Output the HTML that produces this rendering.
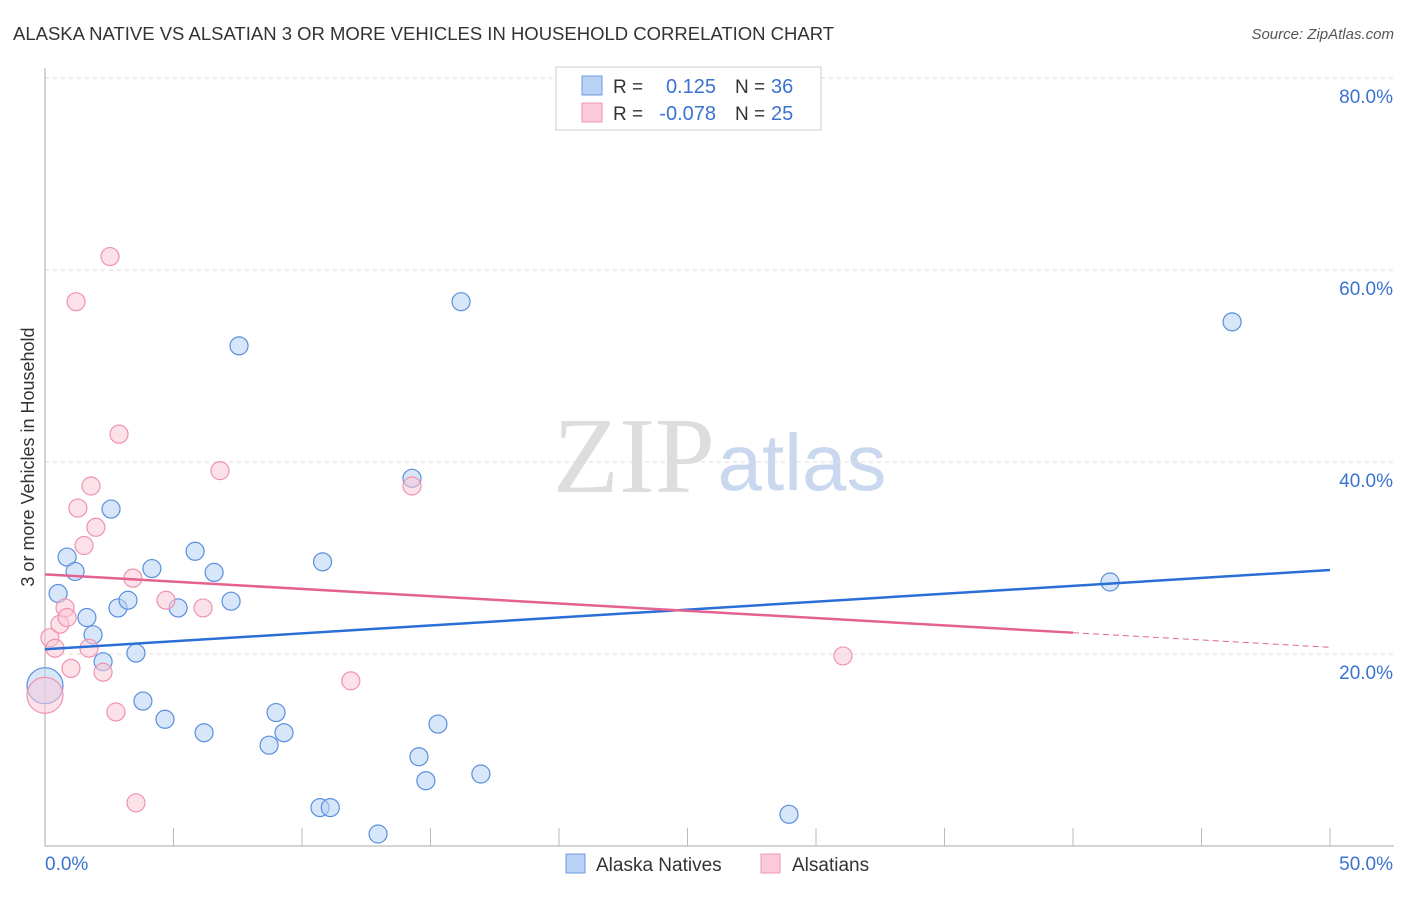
<!DOCTYPE html>
<html><head><meta charset="utf-8"><style>
body{margin:0;background:#fff;font-family:"Liberation Sans",sans-serif}
</style></head><body>
<svg id="c" width="1406" height="892" xmlns="http://www.w3.org/2000/svg">
<text x="13" y="40" font-size="18.5" fill="#333">ALASKA NATIVE VS ALSATIAN 3 OR MORE VEHICLES IN HOUSEHOLD CORRELATION CHART</text>
<text x="1394" y="39" font-size="15" fill="#555" font-style="italic" text-anchor="end">Source: ZipAtlas.com</text>
<text x="634" y="492" font-size="108" fill="#ddd" font-family="Liberation Serif" text-anchor="middle">ZIP</text>
<text x="802" y="490" font-size="80" fill="#c9d8ee" text-anchor="middle">atlas</text>
<text transform="translate(34,457) rotate(-90)" font-size="18" fill="#333" text-anchor="middle">3 or more Vehicles in Household</text>
<g id="grid"></g><g id="pts"></g><g id="lines"></g>
<g>
<rect x="556" y="67" width="265" height="63" fill="#fff" stroke="#ccc"/>
<rect x="582" y="76" width="20" height="19" fill="#b8d1f5" stroke="#6d9be0"/>
<rect x="582" y="103" width="20" height="19" fill="#fbc9d7" stroke="#ee9ab3"/>
<text x="613" y="93" font-size="19" fill="#333">R = </text><text x="716" y="93" font-size="20" fill="#3b73d1" text-anchor="end">0.125</text>
<text x="735" y="93" font-size="19" fill="#333">N = </text><text x="771" y="93" font-size="20" fill="#3b73d1">36</text>
<text x="613" y="120" font-size="19" fill="#333">R = </text><text x="716" y="120" font-size="20" fill="#3b73d1" text-anchor="end">-0.078</text>
<text x="735" y="120" font-size="19" fill="#333">N = </text><text x="771" y="120" font-size="20" fill="#3b73d1">25</text>
</g>
<g>
<rect x="566" y="854" width="19" height="19" fill="#b8d1f5" stroke="#6d9be0"/>
<text x="596" y="871" font-size="19" fill="#333">Alaska Natives</text>
<rect x="761" y="854" width="19" height="19" fill="#fbc9d7" stroke="#ee9ab3"/>
<text x="792" y="871" font-size="19" fill="#333">Alsatians</text>
</g>
</svg>
<script>
const blueX=[0,0.51,0.86,1.17,1.63,1.87,2.26,2.57,2.84,3.23,3.54,3.81,4.16,4.67,5.18,5.84,6.19,6.58,7.24,7.55,8.72,8.99,9.30,10.7,10.8,11.1,12.96,14.28,14.55,14.82,15.29,16.19,16.96,28.95,41.44,46.19];
const blueY=[16.7,26.3,30.1,28.6,23.8,22.0,19.2,35.1,24.8,25.6,20.1,15.1,28.9,13.2,24.8,30.7,11.8,28.5,25.5,52.1,10.5,13.9,11.8,4.0,29.6,4.0,1.25,38.3,9.3,6.8,12.7,56.7,7.5,3.3,27.5,54.6];
const pinkX=[0,0.19,0.39,0.58,0.78,0.86,1.01,1.21,1.28,1.52,1.71,1.79,1.98,2.26,2.53,2.76,2.88,3.42,3.54,4.71,6.15,6.81,11.9,14.28,31.05];
const pinkY=[15.7,21.7,20.6,23.1,24.8,23.8,18.5,56.7,35.2,31.3,20.6,37.5,33.2,18.1,61.4,13.96,42.9,27.9,4.5,25.6,24.8,39.1,17.2,37.5,19.8];
const blueTrend=[20.5,28.75];
const pinkTrend=[28.3,20.7];
const yTicks=[20,40,60,80];
const xTickLabels=["0.0%","50.0%"];
const NS="http://www.w3.org/2000/svg";
const X=v=>45+v/50*1285, Y=v=>846-v*9.6;
function mk(t,a,p){const e=document.createElementNS(NS,t);for(const k in a)e.setAttribute(k,a[k]);document.getElementById(p).appendChild(e);return e;}
yTicks.forEach(t=>{
 const l=mk('line',{x1:45,x2:1394,y1:Y(t),y2:Y(t),stroke:'#ddd','stroke-dasharray':'4,4'},'grid');
 
 
 const tx=mk('text',{x:1393,y:Y(t)+25,'font-size':19,fill:'#3b73d1','text-anchor':'end'},'grid');
 tx.textContent=t.toFixed(1)+'%';
 
 
});
const ax=mk('line',{x1:45,x2:1394,y1:846,y2:846,stroke:'#aaa'},'grid');


const ay=mk('line',{x1:45,x2:45,y1:68,y2:846,stroke:'#aaa'},'grid');


for(let i=1;i<=10;i++){const t=mk('line',{x1:X(i*5),x2:X(i*5),y1:828,y2:846,stroke:'#bbb'},'grid');
 
 }
xTickLabels.forEach((s,i)=>{const t=mk('text',{x:i?1393:45,y:870,'font-size':19,fill:'#3b73d1','text-anchor':i?'end':'start'},'grid');t.textContent=s;
 
 });
function pts(xs,ys,fill,stroke,name){xs.forEach((x,i)=>{const r=x===0?18:9;
 const c=mk('circle',{cx:X(x),cy:Y(ys[i]),r:r,fill:fill,'fill-opacity':0.55,stroke:stroke,'stroke-width':1.2},'pts');
 
 });}
pts(blueX,blueY,'#b8d1f5','#5a8fdc','alaska-native-point');
pts(pinkX,pinkY,'#fbc9d7','#ee93ae','alsatian-point');
const bl=mk('line',{x1:X(0),y1:Y(blueTrend[0]),x2:X(50),y2:Y(blueTrend[1]),stroke:'#2a6fd6','stroke-width':2.5},'lines');


const pv=x=>pinkTrend[0]+(pinkTrend[1]-pinkTrend[0])*x/50;
const pl=mk('line',{x1:X(0),y1:Y(pv(0)),x2:X(40),y2:Y(pv(40)),stroke:'#e4628f','stroke-width':2.5},'lines');


const pd=mk('line',{x1:X(40),y1:Y(pv(40)),x2:X(50),y2:Y(pv(50)),stroke:'#e4628f','stroke-width':1,'stroke-dasharray':'6,4'},'lines');


</script>
</body></html>
